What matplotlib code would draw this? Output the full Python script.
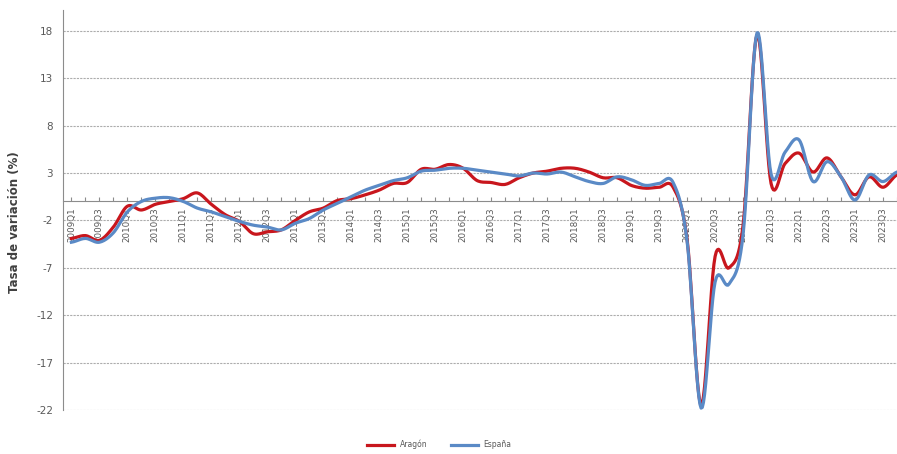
import numpy as np
import matplotlib
matplotlib.use("Agg")
import matplotlib.pyplot as plt

# --- Data ---
years = list(range(2009, 2024))
quarters = [f"{y}Q{q}" for y in years for q in range(1, 5)]

aragon = [-3.9, -3.6, -4.1, -2.7, -0.5, -0.9, -0.3, 0.0, 0.3, 0.9,
          -0.3, -1.4, -2.1, -3.4, -3.2, -3.0, -2.0, -1.1, -0.7, 0.1,
          0.3, 0.7, 1.2, 1.9, 2.0, 3.4, 3.4, 3.9, 3.5, 2.2,
          2.0, 1.8, 2.5, 3.0, 3.2, 3.5, 3.5, 3.1, 2.5, 2.5,
          1.7, 1.4, 1.5, 1.5, -4.0, -21.5, -5.8, -7.0, -2.5, 17.6,
          1.9, 4.0, 5.1, 3.1, 4.6, 2.6, 0.7, 2.6, 1.5, 2.8]

espana = [-4.3, -3.9, -4.3, -3.3, -1.1, 0.0, 0.35, 0.4, 0.0, -0.7,
          -1.1, -1.6, -2.1, -2.5, -2.7, -3.0, -2.3, -1.8, -0.9, -0.2,
          0.5, 1.2, 1.7, 2.2, 2.5, 3.2, 3.3, 3.5, 3.5, 3.3,
          3.1, 2.9, 2.7, 3.0, 2.9, 3.1, 2.6, 2.1, 1.9, 2.6,
          2.3, 1.7, 1.9, 2.0, -4.2, -21.8, -8.5, -8.7, -3.5, 17.8,
          2.9, 5.2, 6.5, 2.1, 4.2, 2.6, 0.15, 2.8, 2.1, 3.1]

yticks = [18, 13, 8, 3, -2, -7, -12, -17, -22]


def smooth(vals, n=12):
    # Excel style smoothed line (Catmull-Rom through the points)
    p = np.asarray(vals, dtype=float)
    x = np.arange(len(p), dtype=float)
    pp = np.concatenate([[p[0]], p, [p[-1]]])
    xs, ys = [], []
    for i in range(len(p) - 1):
        p0, p1, p2, p3 = pp[i], pp[i + 1], pp[i + 2], pp[i + 3]
        t = np.linspace(0, 1, n, endpoint=False)
        y = 0.5 * ((2 * p1) + (-p0 + p2) * t
                   + (2 * p0 - 5 * p1 + 4 * p2 - p3) * t ** 2
                   + (-p0 + 3 * p1 - 3 * p2 + p3) * t ** 3)
        xs.append(x[i] + t)
        ys.append(y)
    xs.append([x[-1]])
    ys.append([p[-1]])
    return np.concatenate(xs), np.concatenate(ys)


fig = plt.figure(figsize=(8.97, 4.54), dpi=100)
ax = fig.add_axes([63 / 897, 44 / 454, 1 - 63 / 897, 400 / 454])

xa, ya = smooth(aragon)
xe, ye = smooth(espana)
ax.plot(xa, ya, color="#C8161D", lw=2.3, label="Aragón", zorder=3)
ax.plot(xe, ye, color="#5A8AC6", lw=2.3, label="España", zorder=4)

ax.set_xlim(-0.6, 58.95)
ax.set_ylim(-22, 20.2)
ax.set_yticks(yticks)
ax.set_yticklabels([str(v) for v in yticks], fontsize=7.5, color="#595959")
ax.tick_params(axis="y", length=0, pad=7)
ax.grid(axis="y", color="#adadad", lw=0.8, linestyle=(0, (2, 1)))
ax.set_axisbelow(True)

# quarter ticks on the zero line, labels every two quarters
ax.spines["bottom"].set_position(("data", 0))
ax.spines["bottom"].set_color("#8c8c8c")
ax.spines["left"].set_color("#8c8c8c")
ax.spines["left"].set_bounds(-22, 20.2)
ax.spines["top"].set_visible(False)
ax.spines["right"].set_visible(False)
ax.set_xticks(range(len(quarters)))
ax.set_xticklabels([q if i % 2 == 0 else "" for i, q in enumerate(quarters)],
                   rotation=90, fontsize=6.3, color="#595959")
ax.tick_params(axis="x", direction="in", length=3, color="#8c8c8c", pad=4)

ax.set_ylabel("Tasa de variación (%)", fontsize=8.5, fontweight="bold", color="#404040")
ax.yaxis.set_label_coords(-42 / 834, 0.47)

fig.legend(loc="lower center", bbox_to_anchor=(0.49, -0.005), ncol=2,
           frameon=False, fontsize=5.5, handlelength=3.5, columnspacing=3,
           labelcolor="#595959")

fig.savefig("out.png", dpi=100)
